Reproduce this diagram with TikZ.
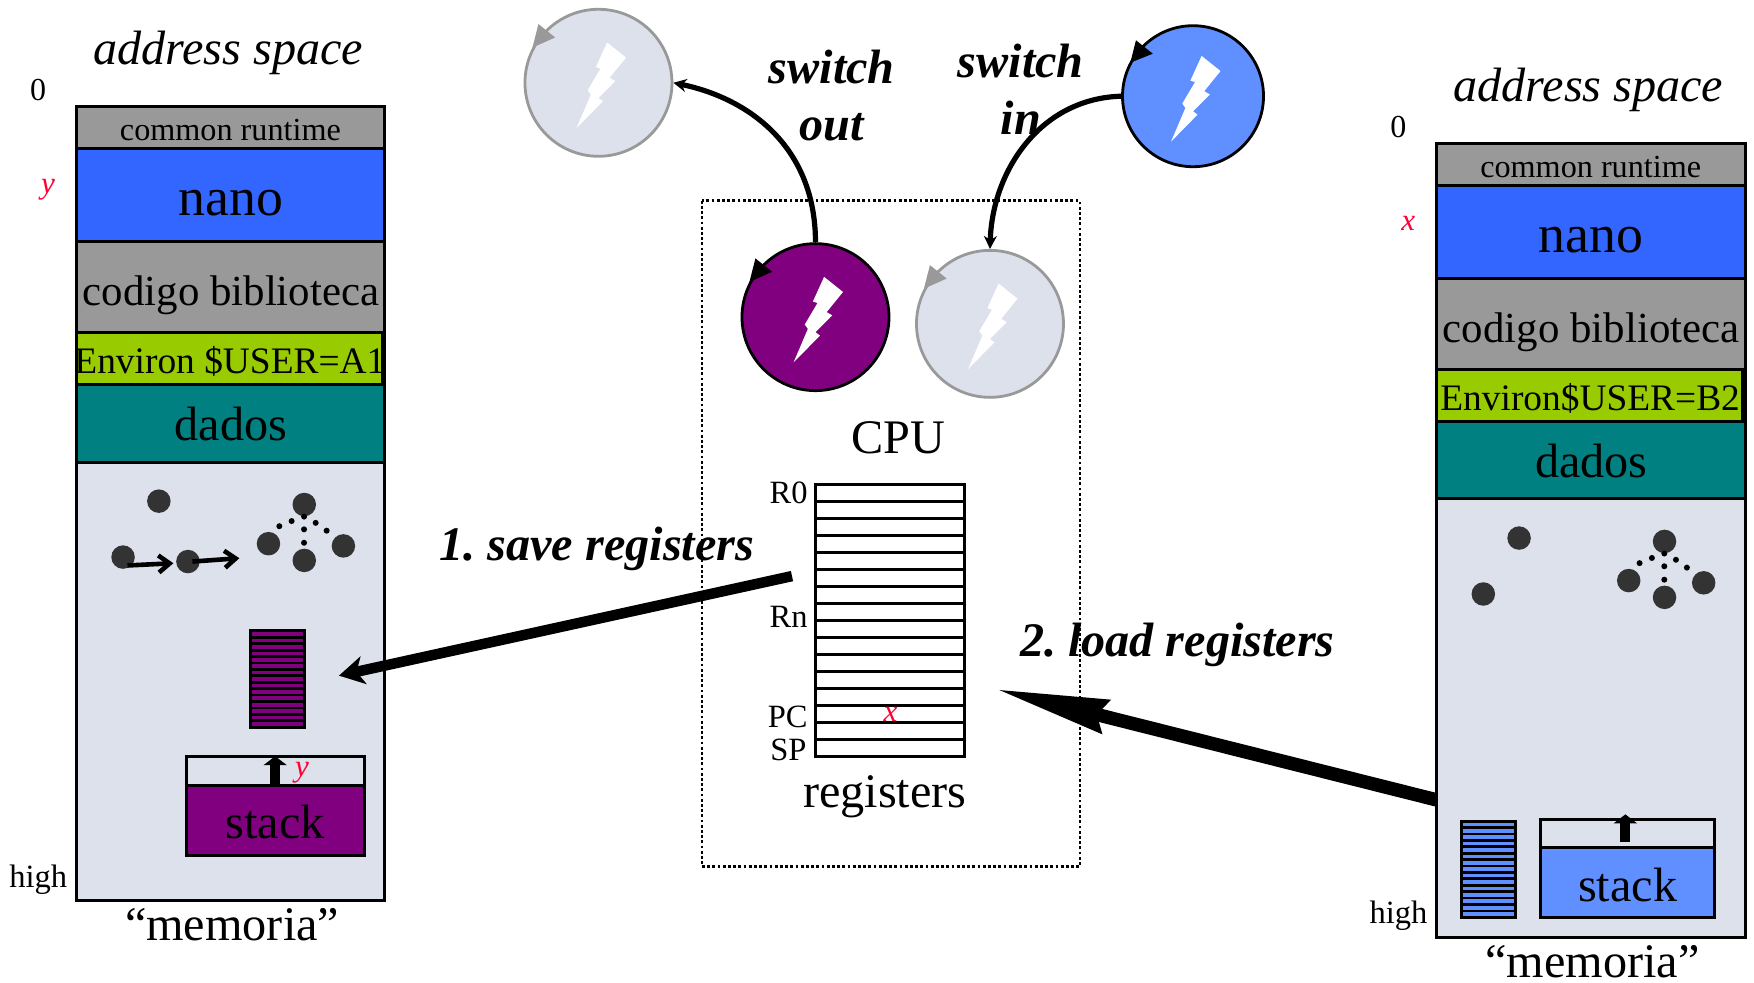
\documentclass[tikz,border=0pt]{standalone}
\usepackage{fontspec}
\setmainfont{Liberation Serif}
\usetikzlibrary{arrows.meta}
\frenchspacing
\definecolor{cgray}{HTML}{999999}
\definecolor{cnano}{HTML}{3366FF}
\definecolor{cgreen}{HTML}{99CC00}
\definecolor{cteal}{HTML}{008080}
\definecolor{clight}{HTML}{DDE1EC}
\definecolor{cpurple}{HTML}{800080}
\definecolor{cblue}{HTML}{6090FF}
\definecolor{cred}{HTML}{FF0033}
\definecolor{cdot}{HTML}{333333}
\newcommand{\fsz}[1]{\fontsize{#1}{#1}\selectfont}
\tikzset{
  x=1.1186pt,y=-1.1186pt,
  txt/.style={inner sep=0pt,outer sep=0pt,anchor=base},
  txtr/.style={inner sep=0pt,outer sep=0pt,anchor=base east},
  big/.style={txt,font=\fsz{48.2}},
  mid/.style={txt,font=\fsz{32}},
  lab/.style={txtr,font=\fsz{32.5}},
  redv/.style={txt,font=\fsz{31}\itshape,text=cred},
  bigi/.style={txt,font=\fsz{48.2}\itshape},
  bold/.style={txt,font=\fsz{48.2}\bfseries\itshape},
  sect/.style={draw=black,line width=3pt},
  thr/.style={circle,draw=#1,line width=2.8pt,inner sep=0pt,minimum size=147pt},
  bigdot/.style={circle,fill=cdot,inner sep=0pt,minimum size=23.5pt},
  smalldot/.style={circle,fill=black,inner sep=0pt,minimum size=6pt},
  barb/.style={line width=4.6pt,-{Straight Barb[length=11pt,width=17pt,line width=4.6pt]}},
  uparrow/.style={line width=10pt,-{Triangle[length=9pt,width=23pt]}},
  curve/.style={line width=5.2pt,-{Stealth[length=13pt,width=13pt]}},
}
\newcommand{\bolt}[1]{%
  \fill[white,shift={(#1.center)}] (7.7,-36)--(24.6,-22.5)--(10,-4.5)--(15,-1.5)--(0,13.5)--(4,16.5)--(-19.6,40.5)--(-6.8,10.5)--(-9.6,6.6)--(1.8,-12.6)--(-2.3,-14)--cycle;}
\newcommand{\tick}[2]{%
  \fill[#2,shift={(#1.center)}] (-53.7,-52.5)--(-38.7,-40.5)--(-59,-31.5)--cycle;}
\newcommand{\memblock}[3]{%
  \fill[clight] (68,413) rectangle (344,805);
  \fill[cgray] (68,95) rectangle (344,133);
  \fill[cnano] (68,133) rectangle (344,216);
  \fill[cgray] (68,216) rectangle (344,297);
  \fill[cteal] (68,344) rectangle (344,413);
  \draw[sect] (68,95) rectangle (344,805);
  \draw[sect] (68,133)--(344,133);
  \draw[sect] (68,216)--(344,216);
  \draw[sect] (68,413)--(344,413);
  \fill[cgreen] (68,297) rectangle (342,344);
  \draw[sect] (68,297) rectangle (342,344);
  \node[txt,font=\fsz{32.2}] (rt) at (206,126) {common runtime};
  \node[txt,font=\fsz{53.8}] (nano) at (206.500,193) {nano};
  \node[txt,font=\fsz{42.9}] (lib) at (206.500,273) {codigo biblioteca};
  \node[txt,font=\fsz{37.4}] (env) at (205.500,334) {#1};
  \node[big] (dados) at (206.500,394) {dados};
  \node[bigi] (addr) at (204,58) {address space};
  \node[big] (mem) at (207.500,840.500) {“memoria”};
  \node[mid] (zero) at (34,89.500) {0};
  \node[lab] (high) at (60,793) {high};
  \node[redv] (var) at (43,#3) {#2};
  \node[bigdot] (a) at (142,448) {};
  \node[bigdot] (b) at (110,498) {};
  \node[bigdot] (c) at (240,486) {};
  \node[bigdot] (d) at (272,451) {};
  \node[bigdot] (e) at (307,488) {};
  \node[bigdot] (f) at (272,501) {};
  \foreach \n/\p in {p1/{249.7,470.4},p2/{260.7,465.8},p3/{271.8,461.8},p4/{282.2,467.4},p5/{292,474.4},p6/{271.8,473.2},p7/{271.8,485.2}}
    \node[smalldot] (\n) at (\p) {};
}
\newcommand{\stripes}[3]{%
  \fill[#3] (#1,#2) rectangle ++(48,86);
  \foreach \i in {1,...,14} \draw[line width=2.7pt] (#1,#2+\i*5.733) -- ++(48,0);
  \draw[line width=3pt] (#1,#2) rectangle ++(48,86);
}
\begin{document}
\begin{tikzpicture}
\useasboundingbox (0,0) rectangle (1568,877.9);
\draw[line width=2.8pt,dash pattern=on 2.8pt off 2.4pt] (627.500,179.500) rectangle (965.500,774.500);
\node[big] (cpu) at (803,405) {CPU};
\foreach \i in {1,...,15} \draw[line width=2.9pt] (729,433.500+\i*15.19) -- (862,433.500+\i*15.19);
\draw[line width=2.9pt] (729,433.500) rectangle (862,676);
\node[lab] (r0) at (722,450) {R0};
\node[lab] (rn) at (722,561) {Rn};
\node[lab] (pc) at (722,650) {PC};
\node[lab] (sp) at (721,680) {SP};
\node[redv] (rx) at (796,645) {x};
\node[big] (regs) at (791,722) {registers};
\node[thr=cgray,fill=clight] (t1) at (535,74) {};
\node[thr=black,fill=cpurple] (t2) at (729,283.500) {};
\node[thr=cgray,fill=clight] (t3) at (885,289.500) {};
\node[thr=black,fill=cblue,minimum size=141pt] (t4) at (1066.500,86) {};
\foreach \t in {t1,t2,t3,t4} {\bolt{\t}}
\tick{t1}{cgray}\tick{t2}{black}\tick{t3}{cgray}
\fill[black,shift={(t4.center)}] (-51,-50)--(-36,-38)--(-56,-30)--cycle;
\draw[curve] (t2.north) .. controls +(0,-85) and +(68,14) .. (t1.east);
\draw[curve] (t4.west) .. controls +(-72,2) and +(2,-70) .. (t3.north);
\node[bold] (sw1) at (743.500,75) {switch};
\node[bold] (sw2) at (743.500,126) {out};
\node[bold] (sw3) at (912.500,69) {switch};
\node[bold] (sw4) at (912.500,120) {in};
\begin{scope}[name prefix=L-]
\memblock{Environ \$USER=A1}{y}{173}
\node[bigdot] (g) at (168,502) {};
\coordinate (g1) at (214,499);
\coordinate (b1) at (114,505.500);
\coordinate (g2) at (155,503.500);
\coordinate (g0) at (172,502);
\draw[barb] (b1) -- (g2);
\draw[barb] (g0) -- (g1);
\stripes{224}{564}{cpurple}
\fill[cpurple] (167,702) rectangle (326,765);
\draw[sect] (167,676) rectangle (326,765);
\draw[sect] (167,702) -- (326,702);
\node[big] (stack) at (246,750) {stack};
\coordinate (s0) at (246,702);
\coordinate (s1) at (246,676);
\draw[uparrow] (s0) -- (s1);
\node[redv] (yv) at (270,694) {y};
\end{scope}
\begin{scope}[shift={(1216,33)},name prefix=R-]
\memblock{Environ\$USER=B2}{x}{173}
\end{scope}
\stripes{1306.500}{734}{cblue}
\fill[cblue] (1377,758) rectangle (1533,820);
\draw[sect] (1377,733) rectangle (1533,820);
\draw[sect] (1377,758) -- (1533,758);
\node[big] (Rstack) at (1455,806) {stack};
\coordinate (Rs0) at (1453,753);
\coordinate (Rs1) at (1453,728);
\draw[uparrow] (Rs0) -- (Rs1);
\coordinate (save0) at (708,515);
\coordinate (save1) at (303,604);
\coordinate (load0) at (1284,715);
\coordinate (load1) at (890,616);
\draw[line width=10.5pt,-{Stealth[length=25pt,width=28pt,inset=7pt]}] (save0) -- (save1);
\draw[line width=13.5pt,-{Stealth[length=112pt,width=33pt,inset=8pt]}] (load0) -- (load1);
\node[bold] (save) at (533.500,501) {1. save registers};
\node[bold] (load) at (1052.500,587) {2. load registers};
\end{tikzpicture}
\end{document}
